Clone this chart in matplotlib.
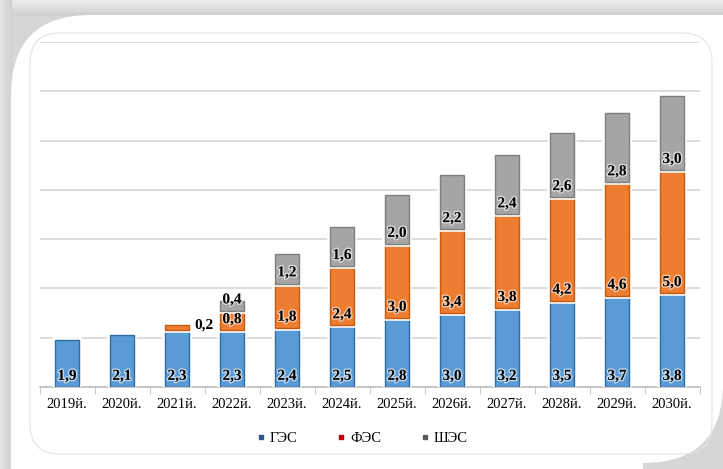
import numpy as np
import matplotlib
matplotlib.use('Agg')
import matplotlib.pyplot as plt
import matplotlib.patheffects as pe
from matplotlib.patches import FancyBboxPatch, Rectangle
from matplotlib.lines import Line2D

plt.rcParams['font.family'] = ['Liberation Serif', 'DejaVu Serif']

years = ['2019й.', '2020й.', '2021й.', '2022й.', '2023й.', '2024й.',
         '2025й.', '2026й.', '2027й.', '2028й.', '2029й.', '2030й.']
ges = [1.9, 2.1, 2.3, 2.3, 2.4, 2.5, 2.8, 3.0, 3.2, 3.5, 3.7, 3.8]
fes = [0.0, 0.0, 0.2, 0.8, 1.8, 2.4, 3.0, 3.4, 3.8, 4.2, 4.6, 5.0]
shes = [0.0, 0.0, 0.0, 0.4, 1.2, 1.6, 2.0, 2.2, 2.4, 2.6, 2.8, 3.0]
series_names = ['ГЭС', 'ФЭС', 'ШЭС']

face = ['#5B9BD5', '#ED7D31', '#A5A5A5']
edge = ['#2E6DA4', '#C55A11', '#7F7F7F']
legend_col = ['#2F5597', '#C00000', '#595959']

fig = plt.figure(figsize=(7.23, 4.69), dpi=100)
fig.patch.set_facecolor('#d6d6d6')

# background frame
bg = fig.add_axes([0, 0, 1, 1], zorder=-5)
grad = np.linspace(0.93, 0.81, 30).reshape(-1, 1)
bg.imshow(np.dstack([grad] * 3), extent=[0, 723, 16, 0], aspect='auto')
gradx = np.linspace(0.90, 0.82, 20).reshape(1, -1)
bg.imshow(np.dstack([gradx] * 3), extent=[0, 12, 469, 0], aspect='auto')
bg.set_xlim(0, 723)
bg.set_ylim(469, 0)
bg.axis('off')
bg.add_patch(FancyBboxPatch((11, 15), 712, 448,
                            boxstyle='round,pad=0,rounding_size=80',
                            fc='white', ec='none'))
bg.add_patch(Rectangle((600, 15), 123, 120, fc='white', ec='none'))
bg.add_patch(Rectangle((11, 380), 632, 89, fc='white', ec='none'))
bg.add_patch(FancyBboxPatch((30, 33), 682, 421,
                            boxstyle='round,pad=0,rounding_size=30',
                            fc='none', ec='#e4e4e4', lw=0.8))

ax = fig.add_axes([39.5 / 723, 1 - 387 / 469, 660 / 723, 345 / 469])
ax.set_facecolor('none')
x = np.arange(len(years))
values = [ges, fes, shes]
bottom = np.zeros(len(years))
for i, vals in enumerate(values):
    vals = np.array(vals)
    keep = vals > 0
    bars = ax.bar(x[keep], vals[keep], width=0.44, bottom=bottom[keep], color=face[i],
                  edgecolor=edge[i], linewidth=1.0, zorder=3 + i)
    for b in bars:
        b.set_path_effects([pe.Stroke(linewidth=4, foreground='white'), pe.Normal()])
    for j, v in enumerate(vals):
        if v <= 0:
            continue
        if i == 1 and j == 2:
            ax.annotate('0,2', (x[j] + 0.22, bottom[j] + v), xytext=(4, 0),
                        textcoords='offset points', ha='left', va='center',
                        fontsize=11, fontweight='bold', zorder=10)
            continue
        t = ax.annotate(f'{v:.1f}'.replace('.', ','), (x[j], bottom[j]),
                        xytext=(0, 3), textcoords='offset points',
                        ha='center', va='bottom', fontsize=11,
                        fontweight='bold', zorder=10)
        t.set_path_effects([pe.withStroke(linewidth=2, foreground='white', alpha=0.6)])
    bottom = bottom + vals

ax.set_xlim(-0.5, len(years) - 0.5)
ax.set_ylim(0, 14)
ax.set_yticks(np.arange(0, 15, 2))
ax.yaxis.grid(True, color='#d9d9d9', linewidth=1.3, zorder=0)
ax.tick_params(axis='y', left=False, labelleft=False)
ax.set_xticks(x)
ax.set_xticklabels(years, fontsize=10.5)
ax.tick_params(axis='x', length=0, pad=8)
ax.set_xticks(np.arange(-0.5, len(years), 1), minor=True)
ax.tick_params(axis='x', which='minor', length=5, color='#bfbfbf', direction='out')
for s in ['top', 'right', 'left']:
    ax.spines[s].set_visible(False)
ax.spines['bottom'].set_color('#bfbfbf')
ax.spines['bottom'].set_linewidth(1.2)

handles = [Line2D([], [], marker='s', ls='none', markersize=3.5,
                  markerfacecolor=c, markeredgecolor=c) for c in legend_col]
fig.legend(handles, series_names, loc='center', bbox_to_anchor=(0.5, 1 - 438 / 469),
           ncol=3, frameon=False, fontsize=10.5, handletextpad=0.2,
           columnspacing=2.6, handlelength=0.8)

fig.savefig('out.png', dpi=100, facecolor=fig.get_facecolor())
